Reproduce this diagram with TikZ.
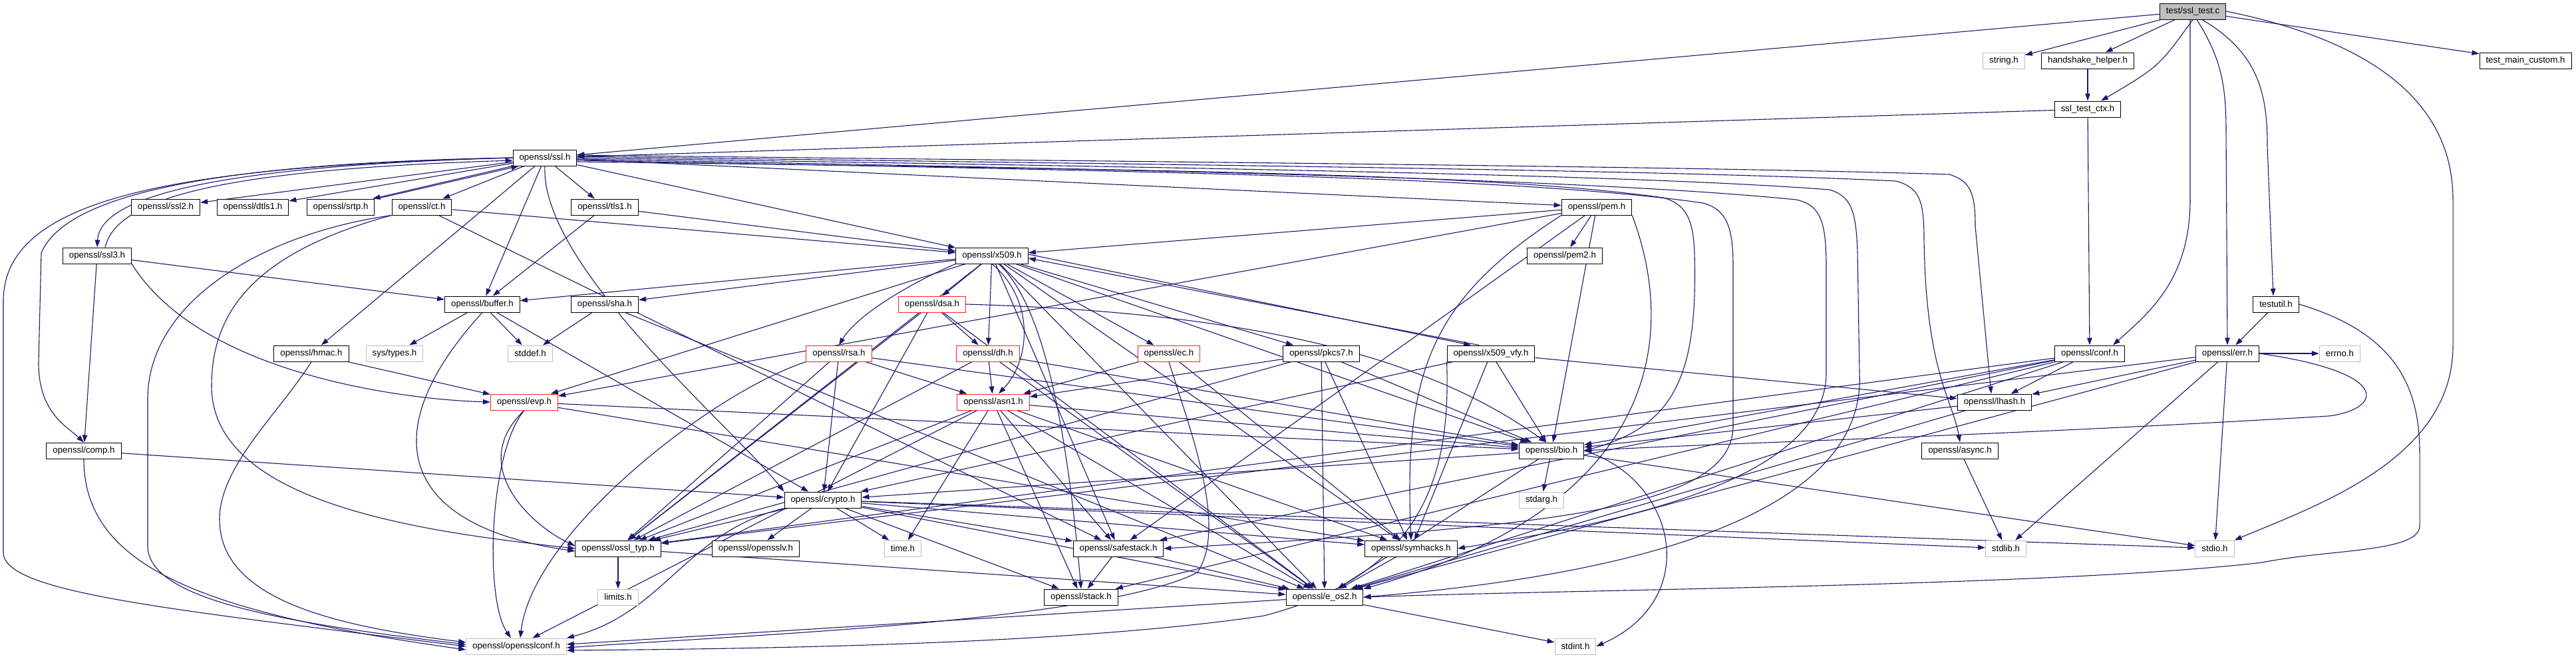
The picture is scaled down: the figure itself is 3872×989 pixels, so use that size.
\documentclass[tikz,border=0pt]{standalone}
\usepackage{fontspec}
\setmainfont{Liberation Sans}
\usetikzlibrary{arrows.meta,backgrounds}
\definecolor{edgeblue}{HTML}{191970}
\definecolor{rootgray}{HTML}{BFBFBF}
\definecolor{sysgray}{HTML}{BFBFBF}
\definecolor{truncred}{HTML}{FF2020}
\tikzset{
  doc/.style={draw=black, fill=white, line width=1pt, minimum height=24pt, inner xsep=9.5pt, inner ysep=0pt, font=\fontsize{13.3pt}{15pt}\selectfont},
  sys/.style={doc, draw=sysgray},
  trunc/.style={doc, draw=truncred},
  root/.style={doc, fill=rootgray},
  e/.style={draw=edgeblue, line width=1.1pt, -{Triangle[length=11pt,width=7.5pt]}}
}
\begin{document}
\begin{tikzpicture}[x=1pt,y=-1pt]
\useasboundingbox (0,0) rectangle (3872,989);
% nodes
\node[root] (tc) at (3296,17) {test/ssl\_test.c};
\node[sys] (strh) at (3012,91) {string.h};
\node[doc] (hh) at (3138,91) {handshake\_helper.h};
\node[doc] (tmc) at (3796,91) {test\_main\_custom.h};
\node[doc] (stc) at (3138,164) {ssl\_test\_ctx.h};
\node[doc] (ssl) at (819,237) {openssl/ssl.h};
\node[doc] (ssl2) at (249,311) {openssl/ssl2.h};
\node[doc] (dtls1) at (380,311) {openssl/dtls1.h};
\node[doc] (srtp) at (512,311) {openssl/srtp.h};
\node[doc] (ct) at (634,311) {openssl/ct.h};
\node[doc] (tls1) at (909,311) {openssl/tls1.h};
\node[doc] (pem) at (2400,311) {openssl/pem.h};
\node[doc] (ssl3) at (146,384) {openssl/ssl3.h};
\node[doc] (x509) at (1491,384) {openssl/x509.h};
\node[doc] (pem2) at (2352,384) {openssl/pem2.h};
\node[doc] (buffer) at (725,457) {openssl/buffer.h};
\node[doc] (sha) at (909,457) {openssl/sha.h};
\node[trunc] (dsa) at (1401,457) {openssl/dsa.h};
\node[doc] (testutil) at (3421,457) {testutil.h};
\node[doc] (hmac) at (468,531) {openssl/hmac.h};
\node[sys] (systypes) at (593,531) {sys/types.h};
\node[sys] (stddef) at (797,531) {stddef.h};
\node[trunc] (rsa) at (1261,531) {openssl/rsa.h};
\node[trunc] (dh) at (1485,531) {openssl/dh.h};
\node[trunc] (ec) at (1757,531) {openssl/ec.h};
\node[doc] (pkcs7) at (1986,531) {openssl/pkcs7.h};
\node[doc] (x509vfy) at (2241,531) {openssl/x509\_vfy.h};
\node[doc] (conf) at (3141,531) {openssl/conf.h};
\node[doc] (err) at (3348,531) {openssl/err.h};
\node[sys] (errno) at (3517,531) {errno.h};
\node[trunc] (evp) at (788,604) {openssl/evp.h};
\node[trunc] (asn1) at (1493,604) {openssl/asn1.h};
\node[doc] (lhash) at (2998,604) {openssl/lhash.h};
\node[doc] (comp) at (126,677) {openssl/comp.h};
\node[doc] (bio) at (2332,677) {openssl/bio.h};
\node[doc] (async) at (2946,677) {openssl/async.h};
\node[doc] (crypto) at (1237,751) {openssl/crypto.h};
\node[sys] (stdarg) at (2317,751) {stdarg.h};
\node[doc] (ossltyp) at (929,824) {openssl/ossl\_typ.h};
\node[doc] (opensslv) at (1136,824) {openssl/opensslv.h};
\node[sys] (time) at (1357,824) {time.h};
\node[doc] (safestack) at (1681,824) {openssl/safestack.h};
\node[doc] (symhacks) at (2121,824) {openssl/symhacks.h};
\node[sys] (stdlib) at (3015,824) {stdlib.h};
\node[sys] (stdio) at (3329,824) {stdio.h};
\node[sys] (limits) at (929,897) {limits.h};
\node[doc] (stack) at (1625,897) {openssl/stack.h};
\node[doc] (eos2) at (1991,897) {openssl/e\_os2.h};
\node[sys] (osconf) at (776,971) {openssl/opensslconf.h};
\node[sys] (stdint) at (2368,971) {stdint.h};

\begin{pgfonlayer}{background}
\fill[white] (0,0) rectangle (3872,989);
% root file
\draw[e] (tc) -- (ssl);
\draw[e] (tc) -- (strh);
\draw[e] (tc) -- (hh);
\draw[e] (tc.south) .. controls (3245,100) .. ([xshift=20pt]stc.north);
\draw[e] (tc) -- (tmc);
\draw[e] ([xshift=-4pt]tc.south) -- (3292,300) .. controls (3292,420) and (3230,470) .. ([xshift=35pt]conf.north);
\draw[e] ([xshift=6pt]tc.south) .. controls (3340,90) and (3346,130) .. (3346,200) -- (err.north);
\draw[e] ([xshift=14pt]tc.south) .. controls (3395,80) and (3408,140) .. (3408,220) -- ([xshift=-4pt]testutil.north);
\draw[e] (tc.east) .. controls (3560,60) and (3687,150) .. (3687,300) -- (3687,520) .. controls (3687,690) and (3480,760) .. (stdio.north east);
\draw[e] (hh) -- (stc);
\draw[e] (stc) -- (ssl);
\draw[e] (stc) -- (conf);
\draw[e] (testutil) -- (err);
\draw[e] (testutil.east) .. controls (3600,500) and (3637,580) .. (3637,680) -- (3637,790) .. controls (3637,830) and (3500,825) .. (3400,845) .. controls (3100,880) and (2400,885) .. (eos2.east);
% ssl.h
\draw[e] (ssl) -- (ssl2);
\draw[e] (ssl) -- (dtls1);
\draw[e] (ssl.south west) -- ([xshift=-3pt]srtp.north east);
\draw[e] ([xshift=3pt]srtp.north east) -- ([xshift=9pt]ssl.south west);
\draw[e] (ssl) -- (ct);
\draw[e] (ssl) -- (tls1);
\draw[e] (ssl) -- (pem);
\draw[e] (ssl) -- (x509);
\draw[e] (ssl) -- (buffer);
\draw[e] (ssl) -- (hmac);
\draw[e] (ssl.south) .. controls (812,400) and (1100,640) .. (crypto.north west);
\draw[e] (ssl.west) .. controls (330,245) and (100,290) .. (62,380) -- (58,545) .. controls (58,620) and (100,640) .. (comp.north);
\draw[e] (ssl.west) .. controls (250,250) and (8,300) .. (5,450) -- (5,830) .. controls (5,890) and (250,915) .. (osconf.west);
\draw[e] (ssl.west) .. controls (300,250) and (150,300) .. (ssl3.north);
\draw[e] ([xshift=12pt]ssl3.north) .. controls (175,300) and (320,255) .. ([yshift=-4pt]ssl.west);
\draw[e] ([yshift=4pt]ssl.east) .. controls (1800,244) and (2550,250) .. (2930,262) .. controls (2962,272) and (2969,290) .. (2969,340) -- ([xshift=-5pt]lhash.north);
\draw[e] ([yshift=2pt]ssl.east) .. controls (1800,248) and (2500,255) .. (2850,272) .. controls (2885,282) and (2892,300) .. (2892,360) .. controls (2895,560) and (2935,600) .. (async.north);
\draw[e] (ssl.east) .. controls (1800,252) and (2450,262) .. (2750,285) .. controls (2782,295) and (2790,315) .. (2792,380) -- (2795,560) .. controls (2805,760) and (2500,860) .. (eos2.east);
\draw[e] ([yshift=-2pt]ssl.east) .. controls (1800,256) and (2400,270) .. (2700,300) .. controls (2735,308) and (2745,330) .. (2745,400) -- (2745,560) .. controls (2745,730) and (2400,790) .. (symhacks.east);
\draw[e] ([yshift=-4pt]ssl.east) .. controls (1800,258) and (2300,268) .. (2560,305) .. controls (2595,315) and (2605,340) .. (2605,400) -- (2605,640) .. controls (2605,770) and (2300,792) .. (safestack.east);
\draw[e] ([yshift=-6pt]ssl.east) .. controls (1800,255) and (2250,262) .. (2500,297) .. controls (2535,307) and (2545,330) .. (2547,380) .. controls (2552,560) and (2520,640) .. (bio.east);
% ct.h
\draw[e] (ct) -- (x509);
\draw[e] (ct.south west) .. controls (400,350) and (222,450) .. (222,600) -- (222,820) .. controls (222,900) and (420,935) .. ([yshift=3pt]osconf.west);
\draw[e] (ct.south west) .. controls (380,380) and (318,470) .. (318,580) .. controls (318,760) and (650,800) .. (ossltyp.west);
\draw[e] (ct) -- (safestack);
% tls1, ssl3, hmac, comp
\draw[e] (tls1) -- (buffer);
\draw[e] (tls1) -- (x509);
\draw[e] (ssl3) -- (buffer);
\draw[e] (ssl3.south east) .. controls (300,560) and (600,600) .. (evp.west);
\draw[e] (ssl3) -- (comp);
\draw[e] (hmac) -- (evp);
\draw[e] (hmac.south) .. controls (420,620) and (330,700) .. (330,780) .. controls (330,900) and (500,940) .. ([yshift=6pt]osconf.west);
\draw[e] (comp) -- (crypto);
\draw[e] (comp.south) .. controls (126,850) and (300,920) .. ([yshift=-5pt]osconf.west);
% buffer, sha
\draw[e] (buffer) -- (systypes);
\draw[e] (buffer) -- (stddef);
\draw[e] (buffer.south) .. controls (560,650) and (600,790) .. ([yshift=-4pt]ossltyp.west);
\draw[e] (buffer) -- (crypto);
\draw[e] (sha) -- (stddef);
\draw[e] (sha) -- (eos2);
% evp
\draw[e] (evp.south) .. controls (700,700) and (800,790) .. ([yshift=4pt]ossltyp.west);
\draw[e] (evp.south) .. controls (735,680) and (728,900) .. ([xshift=-8pt]osconf.north);
\draw[e] (evp) -- (symhacks);
\draw[e] (evp) -- (bio);
% rsa
\draw[e] (rsa) -- (asn1);
\draw[e] (rsa) -- (bio);
\draw[e] (rsa) -- (crypto);
\draw[e] (rsa) -- (ossltyp);
\draw[e] (rsa.south west) .. controls (1070,590) and (800,800) .. ([xshift=6pt]osconf.north);
% dsa
\draw[e] (dsa) -- (dh);
\draw[e] (dsa.east) .. controls (1900,470) and (2150,540) .. ([xshift=-8pt]bio.north);
\draw[e] (dsa) -- (eos2);
\draw[e] (dsa) -- (crypto);
\draw[e] (dsa) -- (ossltyp);
% dh
\draw[e] (dh) -- (asn1);
\draw[e] (dh) -- (bio);
\draw[e] (dh) -- (eos2);
\draw[e] (dh) -- (ossltyp);
% ec
\draw[e] (ec) -- (asn1);
\draw[e] (ec) -- (symhacks);
\draw[e] (ec.south) .. controls (1790,650) and (1845,790) .. (1800,860) .. controls (1650,935) and (1100,955) .. ([yshift=-2pt]osconf.east);
% pkcs7
\draw[e] (pkcs7) -- (asn1);
\draw[e] (pkcs7) -- (bio);
\draw[e] (pkcs7) -- (eos2);
\draw[e] (pkcs7) -- (symhacks);
\draw[e] (pkcs7) -- (ossltyp);
% x509_vfy
\draw[e] ([yshift=2pt]x509.east) -- ([xshift=-30pt]x509vfy.north);
\draw[e] ([xshift=-18pt]x509vfy.north) -- ([yshift=-4pt]x509.east);
\draw[e] (x509vfy) -- (lhash);
\draw[e] (x509vfy) -- (bio);
\draw[e] (x509vfy) -- (crypto);
\draw[e] (x509vfy) -- (symhacks);
\draw[e] (x509vfy.south west) .. controls (2180,700) and (2150,860) .. (1900,925) .. controls (1600,970) and (1100,975) .. ([yshift=-6pt]osconf.east);
% x509
\draw[e] (x509) -- (eos2);
\draw[e] (x509) -- (ossltyp);
\draw[e] (x509) -- (symhacks);
\draw[e] (x509) -- (buffer);
\draw[e] (x509) -- (evp);
\draw[e] (x509) -- (bio);
\draw[e] ([xshift=10pt]x509.south) .. controls (1560,450) and (1600,600) .. (stack.north);
\draw[e] (x509.south) .. controls (1555,450) and (1550,540) .. ([xshift=8pt]asn1.north);
\draw[e] (x509) -- (safestack);
\draw[e] (x509) -- (ec);
\draw[e] (x509.south west) .. controls (1380,420) and (1290,470) .. (rsa.north);
\draw[e] (x509) -- (dsa);
\draw[e] (x509) -- (dh);
\draw[e] (x509) -- (sha);
\draw[e] (x509) -- (pkcs7);
% pem
\draw[e] (pem) -- (x509);
\draw[e] (pem) -- (pem2);
\draw[e] (pem) -- (bio);
\draw[e] (pem.south east) .. controls (2520,500) and (2500,760) .. (eos2.north east);
\draw[e] (pem) -- (safestack);
\draw[e] (pem) -- (evp);
\draw[e] (pem.south west) .. controls (2150,450) and (2110,560) .. (symhacks.north);
% asn1
\draw[e] (asn1) -- (time);
\draw[e] (asn1) -- (eos2);
\draw[e] (asn1) -- (osconf);
\draw[e] (asn1) -- (bio);
\draw[e] (asn1) -- (stack);
\draw[e] (asn1) -- (safestack);
\draw[e] (asn1) -- (symhacks);
\draw[e] (asn1) -- (ossltyp);
% bio
\draw[e] (bio) -- (stdarg);
\draw[e] (bio) -- (crypto);
\draw[e] (bio) -- (stdio);
\draw[e] (bio) -- (eos2);
\draw[e] (bio.east) .. controls (2520,720) and (2560,900) .. (stdint.east);
% crypto
\draw[e] (crypto) -- (stdlib);
\draw[e] (crypto) -- (time);
\draw[e] (crypto) -- (eos2);
\draw[e] (crypto) -- (stdio);
\draw[e] (crypto) -- (safestack);
\draw[e] (crypto) -- (opensslv);
\draw[e] (crypto) -- (ossltyp);
\draw[e] (crypto.south west) .. controls (1030,800) and (1000,920) .. (osconf.north east);
\draw[e] (crypto) -- (symhacks);
\draw[e] (crypto) -- (stack);
% small headers
\draw[e] (ossltyp) -- (limits);
\draw[e] (ossltyp) -- (eos2);
\draw[e] (safestack) -- (stack);
\draw[e] (safestack) -- (eos2);
\draw[e] (symhacks) -- (eos2);
\draw[e] (eos2) -- ([yshift=3pt]osconf.east);
\draw[e] (eos2) -- (stdint);
\draw[e] (lhash) -- (eos2);
\draw[e] (lhash) -- (bio);
\draw[e] (async) -- (stdlib);
% conf
\draw[e] (conf) -- (bio);
\draw[e] (conf) -- (lhash);
\draw[e] (conf) -- (stack);
\draw[e] (conf) -- (safestack);
\draw[e] (conf) -- (eos2);
\draw[e] (conf) -- (ossltyp);
% err
\draw[e] (err) -- (eos2);
\draw[e] (err) -- (stdio);
\draw[e] (err) -- (stdlib);
\draw[e] (err) -- (ossltyp);
\draw[e] (err.east) .. controls (3600,560) and (3580,615) .. (3500,625) .. controls (3000,655) and (2600,665) .. (bio.east);
\draw[e] (err) -- (lhash);
\draw[e] (err) -- (errno);
\end{pgfonlayer}
\end{tikzpicture}
\end{document}
